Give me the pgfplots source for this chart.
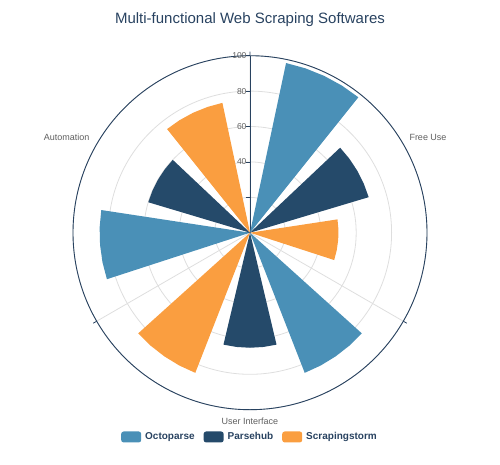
\documentclass[border=0pt]{standalone}
\usepackage{fontspec}
\setmainfont{Liberation Sans}
\usepackage{pgfplots}
\pgfplotsset{compat=1.18}
\usepgfplotslibrary{polar}
\definecolor{octo}{RGB}{74,144,183}
\definecolor{parse}{RGB}{37,74,106}
\definecolor{scrap}{RGB}{250,158,64}
\definecolor{navy}{RGB}{40,66,96}
\definecolor{gridgray}{RGB}{222,222,222}
\definecolor{labgray}{RGB}{95,95,95}
\begin{document}
\begin{tikzpicture}
\useasboundingbox (0,0) rectangle (500pt,464pt);
\node[text=navy, font=\fontsize{15}{18}\selectfont] at (250pt,444pt) {Multi-functional Web Scraping Softwares};
\begin{polaraxis}[
  at={(250pt,231.3pt)}, anchor=center,
  width=354pt, height=354pt, scale only axis,
  xmin=90, xmax=450, ymin=0, ymax=100,
  xtick={90,210,330}, xticklabels={},
  ytick={0,20,40,60,80,100}, yticklabels={,,40,60,80,100},
  grid=major,
  major grid style={gridgray, line width=0.8pt},
  axis line style={navy, line width=0.9pt},
  major tick style={navy, line width=0.8pt},
  major tick length=4pt,
  yticklabel style={font=\fontsize{8.5}{10}\selectfont, text=labgray},
  legend style={at={(0.5,-0.077)}, anchor=center, draw=none, fill=none,
    legend columns=3, font=\bfseries\fontsize{10}{12}\selectfont, text=navy,
    /tikz/every odd column/.append style={column sep=2pt},
    /tikz/every even column/.append style={column sep=7pt}},
  legend image code/.code={\fill[rounded corners=2.5pt] (0pt,-5.5pt) rectangle (20pt,5.5pt);},
]
% Free Use (compass 0-120)
\addplot[fill=octo, draw=none] coordinates {(90,0) (438,98) (431.333,98) (424.667,98) (418,98) (411.333,98) (90,0)};
\addplot[fill=parse, draw=none] coordinates {(90,0) (403.333,70) (396.667,70) (390,70) (383.333,70) (376.667,70) (90,0)};
\addplot[fill=scrap, draw=none] coordinates {(90,0) (368.667,50) (362,50) (355.333,50) (348.667,50) (342,50) (90,0)};
\legend{Octoparse,Parsehub,Scrapingstorm}
% User Interface (compass 120-240)
\addplot[fill=octo, draw=none, forget plot] coordinates {(90,0) (318,85) (311.333,85) (304.667,85) (298,85) (291.333,85) (90,0)};
\addplot[fill=parse, draw=none, forget plot] coordinates {(90,0) (283.333,65) (276.667,65) (270,65) (263.333,65) (256.667,65) (90,0)};
\addplot[fill=scrap, draw=none, forget plot] coordinates {(90,0) (248.667,85) (242,85) (235.333,85) (228.667,85) (222,85) (90,0)};
% Automation (compass 240-360)
\addplot[fill=octo, draw=none, forget plot] coordinates {(90,0) (198,85) (191.333,85) (184.667,85) (178,85) (171.333,85) (90,0)};
\addplot[fill=parse, draw=none, forget plot] coordinates {(90,0) (163.333,60) (156.667,60) (150,60) (143.333,60) (136.667,60) (90,0)};
\addplot[fill=scrap, draw=none, forget plot] coordinates {(90,0) (128.667,75) (122,75) (115.333,75) (108.667,75) (102,75) (90,0)};
\end{polaraxis}
\node[text=labgray, font=\fontsize{9}{11}\selectfont] at (428pt,327pt) {Free Use};
\node[text=labgray, font=\fontsize{9}{11}\selectfont, anchor=east] at (93pt,327pt) {Automation};
\node[text=labgray, font=\fontsize{9}{11}\selectfont] at (250pt,43pt) {User Interface};
\end{tikzpicture}
\end{document}
